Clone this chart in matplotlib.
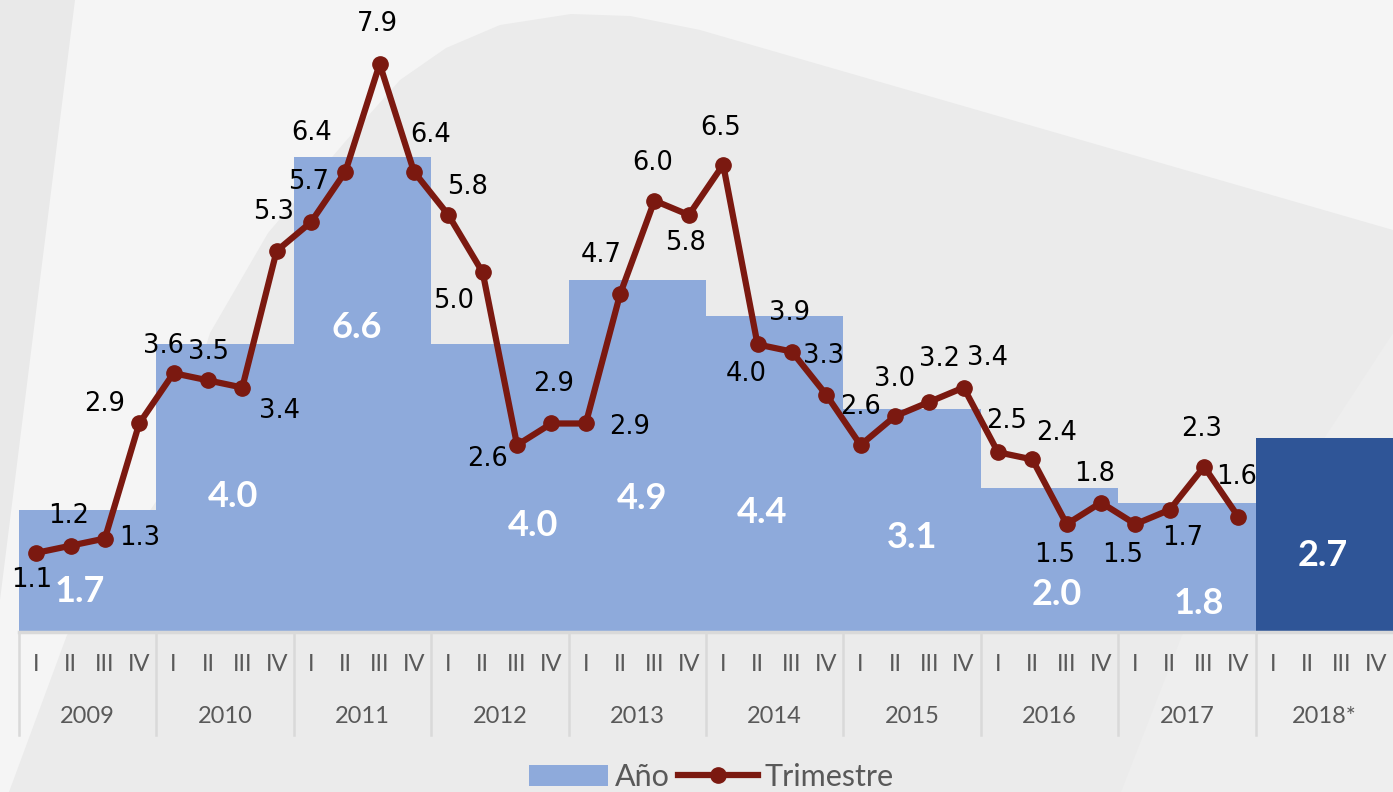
import matplotlib
matplotlib.use("Agg")
import matplotlib.pyplot as plt
from matplotlib.patches import Polygon, Patch
from matplotlib.lines import Line2D

years = ["2009", "2010", "2011", "2012", "2013", "2014", "2015", "2016", "2017", "2018*"]
quarters = ["I", "II", "III", "IV"]
annual = [1.7, 4.0, 6.6, 4.0, 4.9, 4.4, 3.1, 2.0, 1.8, 2.7]
quarterly = [1.1, 1.2, 1.3, 2.9,
             3.6, 3.5, 3.4, 5.3,
             5.7, 6.4, 7.9, 6.4,
             5.8, 5.0, 2.6, 2.9,
             2.9, 4.7, 6.0, 5.8,
             6.5, 4.0, 3.9, 3.3,
             2.6, 3.0, 3.2, 3.4,
             2.5, 2.4, 1.5, 1.8,
             1.5, 1.7, 2.3, 1.6]

# label placement (pixel offsets for quarter labels, bar label shifts)
q_offsets = [(-4, -27), (-2, 30), (35, 1), (-35, 19),
             (-10, 27), (1, 28), (37, -23), (-3, 39),
             (-2, 40), (-34, 39), (-2, 40), (17, 37),
             (19, 28), (-29, -29), (-30, -14), (2, 39),
             (44, -4), (-19, 39), (-2, 38), (-3, -28),
             (-3, 37), (-11, -30), (-2, 39), (-3, 39),
             (0, 38), (0, 37), (10, 43), (24, 30),
             (9, 31), (24, 26), (-12, -31), (-6, 29),
             (-13, -31), (13, -28), (-2, 38), (-2, 40)]
bar_lbl_dx = [-0.22, 0.23, -0.16, 0.96, 0.14, -0.37, 0.0, 0.22, 0.35, -0.04]
bar_lbl_y = [0.57, 1.89, 4.24, 1.48, 1.86, 1.66, 1.31, 0.52, 0.39, 1.07]

light_blue = "#8eaadb"
dark_blue = "#2f5597"
red = "#7b1910"
gray_txt = "#595959"
sep = "#d9d9d9"

W, H = 1393, 792
fig = plt.figure(figsize=(W / 100, H / 100), dpi=100, facecolor="#f5f5f5")

# decorative background
bg = fig.add_axes([0, 0, 1, 1], zorder=-10)
bg.set_xlim(0, W)
bg.set_ylim(H, 0)
bg.axis("off")
bg.add_patch(Polygon([(0, 0), (75, 0), (0, 600)], closed=True, fc="#e9e9e9", ec="none"))
bg.add_patch(Polygon([(9, 792), (67, 635), (157, 500), (210, 333), (268, 233), (344, 143),
                      (400, 80), (446, 48), (500, 25), (571, 14), (630, 16), (700, 30),
                      (1393, 230), (1393, 792)], closed=True, fc="#ebebeb", ec="none"))
bg.add_patch(Polygon([(1121, 792), (1188, 620), (1250, 520), (1310, 460), (1393, 333),
                      (1393, 792)], closed=True, fc="#eeeeee", ec="none"))

ax = fig.add_axes([19 / W, (H - 632) / H, (W - 19) / W, 632 / H])
ax.set_facecolor("none")
ax.set_xlim(-0.5, 39.5)
ax.set_ylim(0, 632 / 71.9)

centers = [i * 4 + 1.5 for i in range(len(years))]
colors = [light_blue] * (len(years) - 1) + [dark_blue]
ax.bar(centers, annual, width=4, color=colors, zorder=2)

qx = list(range(len(quarterly)))
ax.plot(qx, quarterly, color=red, lw=4.5, marker="o", ms=11, zorder=4)

for x, v, (dx, dy) in zip(qx, quarterly, q_offsets):
    ax.annotate(f"{v:.1f}", (x, v), xytext=(dx, dy), textcoords="offset pixels",
                ha="center", va="center", fontsize=18.5, family="DejaVu Sans",
                color="black", zorder=5)

for c, v, dx, y in zip(centers, annual, bar_lbl_dx, bar_lbl_y):
    ax.text(c + dx, y, f"{v:.1f}", ha="center", va="center", fontsize=26,
            family="Lato", fontweight="bold", color="white", zorder=3)

for s in ["top", "right", "left"]:
    ax.spines[s].set_visible(False)
ax.spines["bottom"].set_color(sep)
ax.spines["bottom"].set_linewidth(2.5)
ax.set_xticks([])
ax.set_yticks([])

tr = ax.get_xaxis_transform()
for i, y in enumerate(years):
    left = i * 4 - 0.5
    ax.plot([left, left], [0, -0.163], transform=tr, color=sep, lw=1.8, clip_on=False)
    for j, q in enumerate(quarters):
        ax.text(i * 4 + j, -0.052, q, transform=tr, ha="center", va="center",
                fontsize=17, family="Lato", color=gray_txt)
    ax.text(centers[i], -0.133, y, transform=tr, ha="center", va="center",
            fontsize=17, family="Lato", color=gray_txt)

handles = [Patch(facecolor=light_blue, edgecolor="none"),
           Line2D([0], [0], color=red, lw=4.5, marker="o", ms=11)]
fig.legend(handles, ["Año", "Trimestre"], loc="center", bbox_to_anchor=(711 / W, 1 - 777 / H),
           ncol=2, frameon=False, handlelength=2.6, handletextpad=0.2,
           columnspacing=0.3, labelcolor=gray_txt, prop={"family": "Lato", "size": 22})

fig.savefig("out.png", dpi=100, facecolor=fig.get_facecolor())
